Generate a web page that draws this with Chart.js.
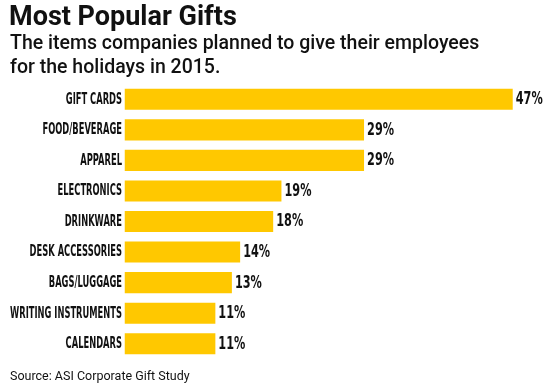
<!DOCTYPE html>
<html>
<head>
<meta charset="utf-8">
<script src="https://cdn.jsdelivr.net/npm/chart.js@4"></script>
<style>
  body { margin: 0; background: #fff; }
  #wrap { position: relative; width: 550px; height: 385px; overflow: hidden; font-family: Roboto, "Liberation Sans", sans-serif; color: #111; }
  #chart { position: absolute; left: 0; top: 0; }
  .title { position: absolute; left: 9px; top: 3px; font-size: 27px; line-height: 27px; font-weight: 700; letter-spacing: 0px; white-space: nowrap; }
  .sub { position: absolute; left: 10px; top: 30.5px; font-size: 19.5px; line-height: 24px; font-weight: 500; white-space: nowrap; }
  .source { position: absolute; left: 10px; top: 368px; font-size: 12.5px; line-height: 15px; }
</style>
</head>
<body>
<div id="wrap">
  <canvas id="chart" width="550" height="385"></canvas>
  <div class="title">Most Popular Gifts</div>
  <div class="sub">The items companies planned to give their employees<br>for the holidays in 2015.</div>
  <div class="source">Source: ASI Corporate Gift Study</div>
</div>
<script>
  const categories = [
    "GIFT CARDS",
    "FOOD/BEVERAGE",
    "APPAREL",
    "ELECTRONICS",
    "DRINKWARE",
    "DESK ACCESSORIES",
    "BAGS/LUGGAGE",
    "WRITING INSTRUMENTS",
    "CALENDARS",
  ];
  const percentages = [47, 29, 29, 19, 18, 14, 13, 11, 11];

  const condensed = '"Liberation Sans Narrow", "DejaVu Sans Condensed", sans-serif';

  // category names and value labels, drawn by hand so they can be squeezed
  // to look like the narrow font in the original
  const labelPlugin = {
    id: "labels",
    afterDatasetsDraw(chart) {
      const ctx = chart.ctx;
      const yScale = chart.scales.y;
      const meta = chart.getDatasetMeta(0);
      ctx.save();
      ctx.fillStyle = "#111";
      ctx.textBaseline = "middle";

      ctx.font = "bold 15px " + condensed;
      ctx.textAlign = "right";
      const longest = ctx.measureText("WRITING INSTRUMENTS").width;
      const sx = 112 / longest;
      categories.forEach((cat, i) => {
        const y = yScale.getPixelForTick(i);
        ctx.save();
        ctx.translate(yScale.right - 2.5, y + 0.5);
        ctx.scale(sx, 1);
        ctx.fillText(cat, 0, 0);
        ctx.restore();
      });

      ctx.font = "bold 17px " + condensed;
      ctx.textAlign = "left";
      const vx = 27 / ctx.measureText("47%").width;
      meta.data.forEach((bar, i) => {
        ctx.save();
        ctx.translate(bar.x + 3, bar.y + 0.5);
        ctx.scale(vx, 1);
        ctx.fillText(percentages[i] + "%", 0, 0);
        ctx.restore();
      });
      ctx.restore();
    },
  };

  new Chart(document.getElementById("chart"), {
    type: "bar",
    data: {
      labels: categories,
      datasets: [
        {
          data: percentages,
          backgroundColor: "#FFC800",
          borderWidth: 0,
          barPercentage: 0.69,
          categoryPercentage: 1,
        },
      ],
    },
    options: {
      indexAxis: "y",
      responsive: false,
      animation: false,
      layout: { padding: { top: 84, bottom: 26, left: 0, right: 12.5 } },
      plugins: { legend: { display: false }, tooltip: { enabled: false } },
      scales: {
        x: { display: false, min: 0, max: 50 },
        y: {
          grid: { display: false },
          border: { display: false },
          ticks: { display: false },
          afterFit(scale) {
            scale.width = 124.5;
          },
        },
      },
    },
    plugins: [labelPlugin],
  });
</script>
</body>
</html>
